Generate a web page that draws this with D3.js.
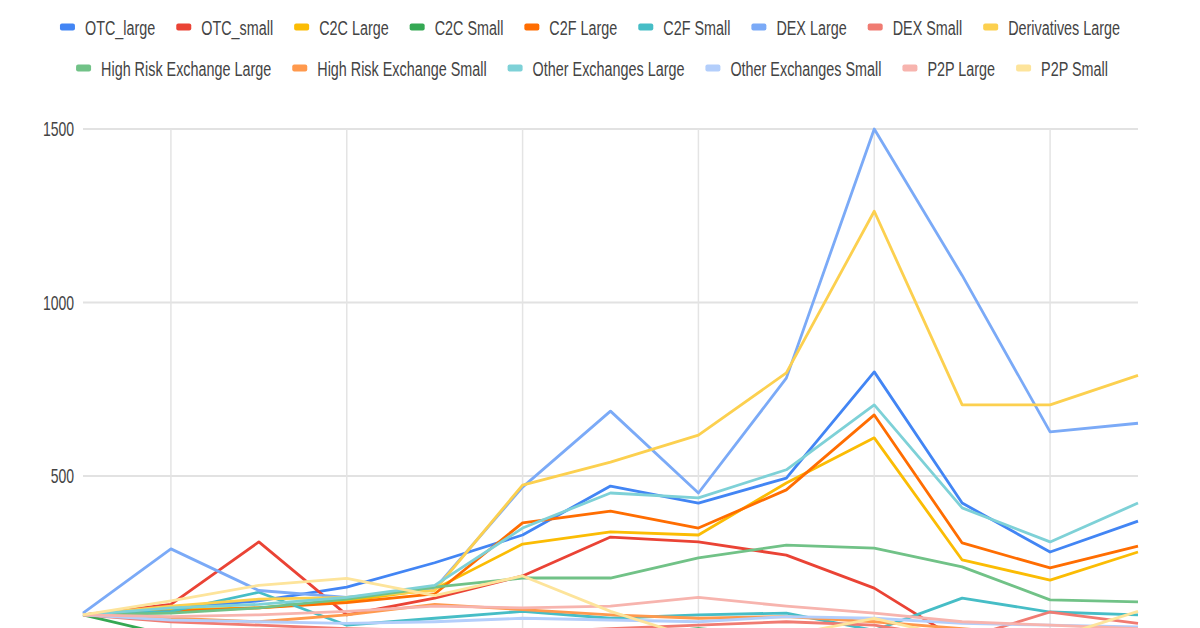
<!DOCTYPE html>
<html>
<head>
<meta charset="utf-8">
<script src="https://cdn.jsdelivr.net/npm/d3@7"></script>
<style>
  html, body { margin: 0; padding: 0; background: #fff; overflow: hidden; }
  svg { display: block; }
  text { font-family: "Liberation Sans", Arial, sans-serif; }
</style>
</head>
<body>
<svg id="chart" width="1200" height="628"></svg>
<script>
// ---- data ----
const categories = ["P1","P2","P3","P4","P5","P6","P7","P8","P9","P10","P11","P12","P13"];
const yTicks = [0, 500, 1000, 1500];

const seriesNames = ["OTC_large","OTC_small","C2C Large","C2C Small","C2F Large","C2F Small","DEX Large","DEX Small","Derivatives Large","High Risk Exchange Large","High Risk Exchange Small","Other Exchanges Large","Other Exchanges Small","P2P Large","P2P Small"];

const otcLarge      = [100, 120, 140, 180, 250, 330, 471, 422, 494, 800, 422, 281, 370];
const otcSmall      = [100, 130, 310, 100, 148, 212, 324, 310, 272, 177, 20, 50, 20];
const c2cLarge      = [100, 115, 120, 140, 174, 304, 339, 330, 480, 610, 258, 200, 281];
const c2cSmall      = [100, 40, 30, 30, 35, 30, 40, 60, 40, 30, 20, 20, 20];
const c2fLarge      = [100, 110, 120, 135, 160, 365, 399, 350, 460, 676, 307, 235, 298];
const c2fSmall      = [100, 110, 165, 70, 90, 110, 90, 100, 105, 55, 148, 108, 100];
const dexLarge      = [105, 290, 170, 150, 175, 468, 687, 451, 782, 1500, 1078, 627, 652];
const dexSmall      = [100, 80, 70, 60, 55, 50, 60, 70, 80, 70, 30, 108, 75];
const derivLarge    = [100, 125, 145, 150, 170, 474, 540, 618, 797, 1263, 705, 705, 790];
const hreLarge      = [100, 105, 120, 145, 180, 206, 206, 264, 301, 292, 238, 143, 137];
const hreSmall      = [100, 90, 80, 100, 130, 115, 100, 90, 95, 80, 60, 40, 30];
const otherLarge    = [100, 120, 130, 150, 185, 350, 451, 437, 518, 705, 408, 310, 422];
const otherSmall    = [100, 85, 80, 75, 80, 90, 85, 80, 95, 90, 75, 70, 65];
const p2pLarge      = [100, 95, 100, 110, 125, 120, 125, 150, 125, 105, 80, 70, 60];
const p2pSmall      = [100, 140, 185, 205, 155, 212, 110, 30, 40, 90, 30, 30, 110];

const seriesValues = [otcLarge, otcSmall, c2cLarge, c2cSmall, c2fLarge, c2fSmall, dexLarge, dexSmall, derivLarge, hreLarge, hreSmall, otherLarge, otherSmall, p2pLarge, p2pSmall];
const colors = ["#4285F4","#EA4335","#FBBC04","#34A853","#FF6D01","#46BDC6","#7BAAF7","#F07B72","#FCD04F","#71C287","#FF994D","#7ED1D7","#B3CEFB","#F7B4AE","#FDE49B"];

// ---- layout ----
(function () {
const svg = d3.select("#chart");
const plotLeft = 83, plotRight = 1138, plotTop = 129, plotBottom = 649.5;
const SX = 0.7;   // horizontal text compression (axis)
const LSX = 0.685; // legend text compression

const x = d3.scalePoint().domain(categories).range([plotLeft, plotRight]);
const y = d3.scaleLinear().domain([0, 1500]).range([plotBottom, plotTop]);

// horizontal gridlines
svg.append("g").selectAll("line").data(yTicks).join("line")
  .attr("x1", plotLeft).attr("x2", plotRight)
  .attr("y1", d => y(d)).attr("y2", d => y(d))
  .attr("stroke", "#e2e2e2").attr("stroke-width", 2);

// vertical gridlines (every other category)
svg.append("g").selectAll("line").data(categories.filter((c, i) => i % 2 === 1)).join("line")
  .attr("x1", d => x(d)).attr("x2", d => x(d))
  .attr("y1", plotTop).attr("y2", plotBottom)
  .attr("stroke", "#e4e4e4").attr("stroke-width", 1.5);

// y labels
svg.append("g").selectAll("text").data(yTicks.filter(d => d > 0)).join("text")
  .attr("transform", d => `translate(74,${y(d)}) scale(${SX},1)`)
  .attr("text-anchor", "end").attr("dy", "0.36em")
  .attr("font-size", 20).attr("fill", "#444")
  .text(d => d);

// lines
const line = d3.line().x((d, i) => x(categories[i])).y(d => y(d));
svg.append("g").selectAll("path").data(seriesValues).join("path")
  .attr("d", line)
  .attr("fill", "none")
  .attr("stroke", (d, i) => colors[i])
  .attr("stroke-width", 2.8)
  .attr("stroke-linejoin", "round");

// legend
const rows = [seriesNames.slice(0, 9), seriesNames.slice(9)];
const rowY = [27, 68];
const rowCenter = [590, 592];
rows.forEach((names, r) => {
  const g = svg.append("g");
  const items = names.map(n => {
    const idx = seriesNames.indexOf(n);
    const it = g.append("g");
    it.append("rect").attr("x", 0).attr("y", -3.5).attr("width", 15).attr("height", 7).attr("rx", 2)
      .attr("fill", colors[idx]);
    const t = it.append("text").attr("transform", `translate(25,0) scale(${LSX},1)`)
      .attr("dy", "0.36em").attr("font-size", 21).attr("fill", "#444").text(n);
    const w = 25 + t.node().getComputedTextLength() * LSX;
    return { it, w };
  });
  const gap = 21;
  const total = d3.sum(items, d => d.w) + gap * (items.length - 1);
  let cx = rowCenter[r] - total / 2;
  items.forEach(d => {
    d.it.attr("transform", `translate(${cx},${rowY[r]})`);
    cx += d.w + gap;
  });
});
})();
</script>
</body>
</html>
